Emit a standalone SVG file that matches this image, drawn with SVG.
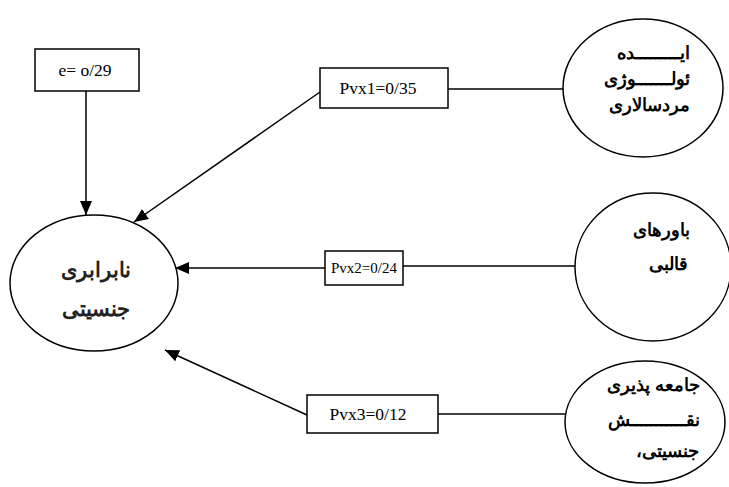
<svg xmlns="http://www.w3.org/2000/svg" width="729" height="487" viewBox="0 0 729 487">
<defs>
<marker id="ah" viewBox="0 0 14 12" refX="14" refY="6" markerWidth="14" markerHeight="12" markerUnits="userSpaceOnUse" orient="auto">
<path d="M0,0 L14,6 L0,12 Z" fill="#000"/>
</marker>
</defs>
<style>
.node{fill:#fff;stroke:#000;stroke-width:1.5}
.box{fill:#fff;stroke:#000;stroke-width:1.5}
.lat{font-family:"Liberation Serif","Times New Roman",serif;font-size:17.5px;fill:#000;text-anchor:middle}
.ar{font-family:"Noto Sans",sans-serif;font-weight:bold;font-size:18px;fill:#000;text-anchor:end}
.arL{font-family:"Noto Sans",sans-serif;font-weight:bold;font-size:21px;fill:#222;text-anchor:middle}
.con{stroke:#000;stroke-width:1.5;fill:none}
</style>
<rect width="729" height="487" fill="#fff"/>
<g id="connectors">
<line class="con" x1="86" y1="91" x2="86" y2="215" marker-end="url(#ah)"/>
<line class="con" x1="320" y1="92" x2="134" y2="222" marker-end="url(#ah)"/>
<line class="con" x1="448" y1="89" x2="563" y2="89"/>
<line class="con" x1="325" y1="268" x2="175" y2="268" marker-end="url(#ah)"/>
<line class="con" x1="403" y1="266" x2="576" y2="266"/>
<line class="con" x1="307" y1="415" x2="165" y2="350" marker-end="url(#ah)"/>
<line class="con" x1="438" y1="414" x2="566" y2="414"/>
</g>
<g id="node-e">
<rect class="box" x="35" y="49" width="104" height="42"/>
<text class="lat" x="85" y="76">e= o/29</text>
</g>
<g id="node-pvx1">
<rect class="box" x="320" y="68" width="128" height="40"/>
<text class="lat" x="378" y="94">Pvx1=0/35</text>
</g>
<g id="node-pvx2">
<rect class="box" x="325" y="251" width="78" height="34"/>
<text class="lat" x="364" y="273" style="font-size:15px">Pvx2=0/24</text>
</g>
<g id="node-pvx3">
<rect class="box" x="307" y="395" width="131" height="38"/>
<text class="lat" x="368" y="420">Pvx3=0/12</text>
</g>
<g id="node-inequality">
<ellipse class="node" cx="94" cy="283" rx="84" ry="68"/>
<text class="arL" x="96" y="277">نابرابری</text>
<text class="arL" x="96" y="316">جنسیتی</text>
</g>
<g id="node-ideology">
<ellipse class="node" cx="643" cy="88" rx="80" ry="69"/>
<text class="ar" x="690" y="59">ایـــــــــده</text>
<text class="ar" x="690" y="85">ئولـــــــوژی</text>
<text class="ar" x="690" y="111">مردسالاری</text>
</g>
<g id="node-beliefs">
<ellipse class="node" cx="653" cy="267" rx="78" ry="74"/>
<text class="ar" x="690" y="236">باورهای</text>
<text class="ar" x="688" y="270">قالبی</text>
</g>
<g id="node-socialization">
<ellipse class="node" cx="645" cy="422" rx="80" ry="61"/>
<text class="ar" x="700" y="391">جامعه پذیری</text>
<text class="ar" x="700" y="426">نقـــــــــــش</text>
<text class="ar" x="699" y="457">جنسیتی،&#x200F;</text>
</g>
</svg>
